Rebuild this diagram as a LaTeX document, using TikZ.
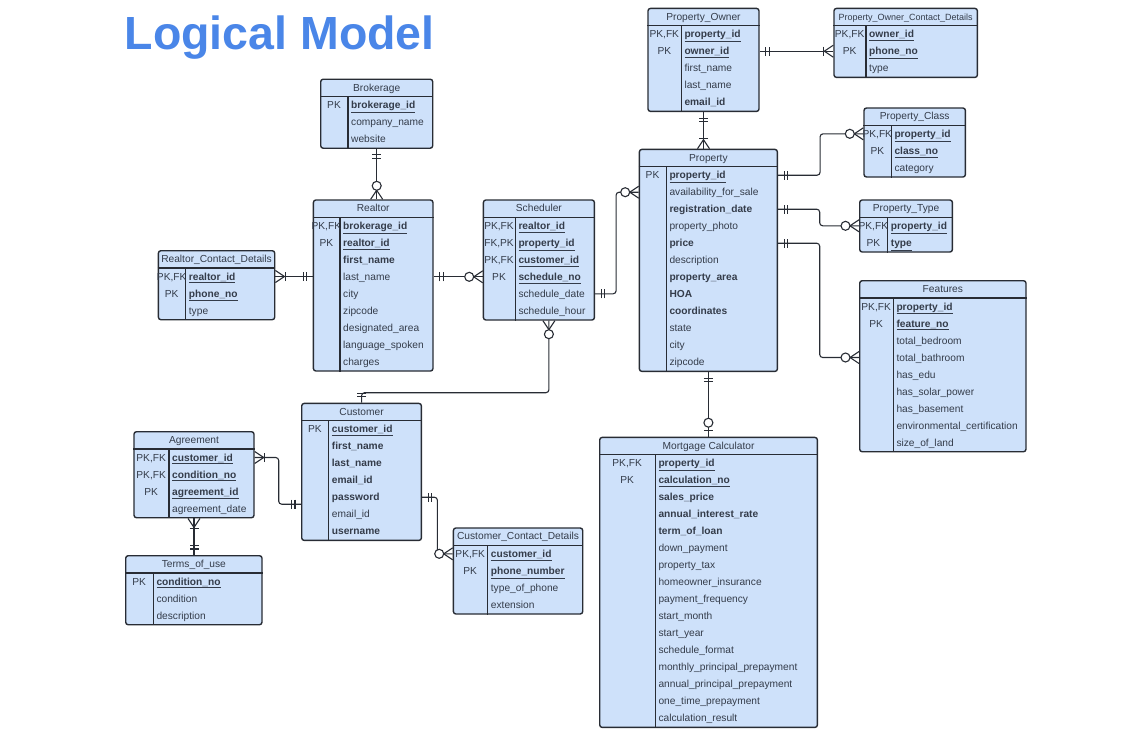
\documentclass[tikz,border=0pt]{standalone}
\usepackage{fontspec}
\setmainfont{Liberation Sans}
\usetikzlibrary{positioning}
\usetikzlibrary{calc}
\usetikzlibrary{decorations.markings}
\definecolor{boxfill}{RGB}{206,225,250}
\definecolor{boxdraw}{RGB}{40,44,52}
\definecolor{inktext}{RGB}{52,60,74}
\definecolor{titleblue}{RGB}{74,134,232}
\tikzstyle{entity}=[rectangle,draw=boxdraw,fill=boxfill,line width=1.4pt,rounded corners=2.5pt,inner sep=0pt]
\tikzstyle{boxline}=[draw=boxdraw,line width=1.2pt]
\tikzstyle{headtext}=[font=\fontsize{10.2}{12}\selectfont,text=inktext,inner sep=0pt,text height=9pt,text depth=2pt]
\tikzstyle{keytext}=[headtext]
\tikzstyle{fieldtext}=[headtext,anchor=west]
\tikzstyle{link}=[draw=boxdraw,line width=1.1pt,rounded corners=3pt]
\tikzstyle{sym}=[draw=boxdraw,line width=1.1pt,sharp corners]
\tikzset{
  sym start/.style={postaction={decorate,decoration={markings,mark=at position 0 with {\begin{scope}[rotate=180]#1\end{scope}}}}},
  sym end/.style={postaction={decorate,decoration={markings,mark=at position 1 with {#1}}}}
}
\newcommand{\keyfield}[1]{\underline{\textbf{#1}}}
% crow's foot ends, box lies towards +x
\newcommand{\symone}{\draw[sym] (-6,-4.5) -- (-6,4.5) (-9.5,-4.5) -- (-9.5,4.5);}
\newcommand{\symcrow}{\draw[sym] (0,-6) -- (-9,0) -- (0,6);}
\newcommand{\symzeromany}{\symcrow\draw[sym,fill=white] (-13.5,0) circle (4.5);}
\newcommand{\symonemany}{\symcrow\draw[sym] (-10,-4.5) -- (-10,4.5);}
\newcommand{\symzeroone}{\draw[sym] (-6,-4.5) -- (-6,4.5);\draw[sym,fill=white] (-14,0) circle (4.5);}
% name, corner, width, key width, rows, heading, fields
\newcommand{\entity}[7]{%
  \node[entity,anchor=north west,minimum width=#3pt,minimum height={(18+17*#5)*1pt}] (#1) at #2 {};
  \draw[boxline] ([yshift=-18pt]#1.north west) -- ([yshift=-18pt]#1.north east);
  \draw[boxline] ([shift={(#4pt,-18pt)}]#1.north west) -- ([xshift=#4pt]#1.south west);
  \node[headtext] (#1-head) at ([yshift=-9pt]#1.north) {#6};
  \foreach \key/\field [count=\i] in {#7}{
    \node[keytext] (#1-k\i) at ($(#1.north west)+(#4/2,9.5+17*\i)$) {\key};
    \node[fieldtext] (#1-\i) at ($(#1.north west)+(#4+3,9.5+17*\i)$) {\field};
  }
}

\begin{document}
\begin{tikzpicture}[x=1pt,y=-1pt]
    \useasboundingbox (0,0) rectangle (1132,732);
    \node[font=\fontsize{46.5}{50}\selectfont\bfseries,text=titleblue,anchor=base west,inner sep=0pt] (title) at (124.4,49.5) {Logical Model};

    % First we draw the tables
    \entity{brokerage}{(320,78.5)}{112}{28}{3}{Brokerage}
      {PK/\keyfield{brokerage\_id}, {}/company\_name, {}/website}
    \entity{realtor}{(312.7,199.3)}{119.6}{27.3}{9}{Realtor}
      {{PK,FK}/\keyfield{brokerage\_id}, PK/\keyfield{realtor\_id}, {}/\textbf{first\_name}, {}/last\_name, {}/city, {}/zipcode, {}/designated\_area, {}/language\_spoken, {}/charges}
    \entity{realtorcontact}{(157.7,250)}{116.3}{28}{3}{Realtor\_Contact\_Details}
      {{PK,FK}/\keyfield{realtor\_id}, PK/\keyfield{phone\_no}, {}/type}
    \entity{scheduler}{(482.7,199.3)}{111}{32.6}{6}{Scheduler}
      {{PK,FK}/\keyfield{realtor\_id}, {FK,PK}/\keyfield{property\_id}, {PK,FK}/\keyfield{customer\_id}, PK/\keyfield{schedule\_no}, {}/schedule\_date, {}/schedule\_hour}
    \entity{property}{(638.7,148.7)}{138}{27.6}{12}{Property}
      {PK/\keyfield{property\_id}, {}/availability\_for\_sale, {}/\textbf{registration\_date}, {}/property\_photo, {}/\textbf{price}, {}/description, {}/\textbf{property\_area}, {}/\textbf{HOA}, {}/\textbf{coordinates}, {}/state, {}/city, {}/zipcode}
    \entity{owner}{(647.3,7.7)}{111}{34}{5}{Property\_Owner}
      {{PK,FK}/\keyfield{property\_id}, PK/\keyfield{owner\_id}, {}/first\_name, {}/last\_name, {}/\textbf{email\_id}}
    \entity{ownercontact}{(833.3,7.7)}{143.4}{32.7}{3}{\fontsize{9}{10}\selectfont Property\_Owner\_Contact\_Details}
      {{PK,FK}/\keyfield{owner\_id}, PK/\keyfield{phone\_no}, {}/type}
    \entity{propclass}{(863.3,107.3)}{101.4}{28}{3}{Property\_Class}
      {{PK,FK}/\keyfield{property\_id}, PK/\keyfield{class\_no}, {}/category}
    \entity{proptype}{(859,199.3)}{92.7}{28.7}{2}{Property\_Type}
      {{PK,FK}/\keyfield{property\_id}, PK/\keyfield{type}}
    \entity{features}{(859,280)}{166.3}{34.3}{9}{Features}
      {{PK,FK}/\keyfield{property\_id}, PK/\keyfield{feature\_no}, {}/total\_bedroom, {}/total\_bathroom, {}/has\_edu, {}/has\_solar\_power, {}/has\_basement, {}/environmental\_certification, {}/size\_of\_land}
    \entity{mortgage}{(599,436.7)}{217.7}{56.3}{16}{Mortgage Calculator}
      {{PK,FK}/\keyfield{property\_id}, PK/\keyfield{calculation\_no}, {}/\textbf{sales\_price}, {}/\textbf{annual\_interest\_rate}, {}/\textbf{term\_of\_loan}, {}/down\_payment, {}/property\_tax, {}/homeowner\_insurance, {}/payment\_frequency, {}/start\_month, {}/start\_year, {}/schedule\_format, {}/monthly\_principal\_prepayment, {}/annual\_principal\_prepayment, {}/one\_time\_prepayment, {}/calculation\_result}
    \entity{customer}{(301,402.7)}{119.7}{27.7}{7}{Customer}
      {PK/\keyfield{customer\_id}, {}/\textbf{first\_name}, {}/\textbf{last\_name}, {}/\textbf{email\_id}, {}/\textbf{password}, {}/email\_id, {}/\textbf{username}}
    \entity{agreement}{(133.3,431)}{120}{35.7}{4}{Agreement}
      {{PK,FK}/\keyfield{customer\_id}, {PK,FK}/\keyfield{condition\_no}, PK/\keyfield{agreement\_id}, {}/agreement\_date}
    \entity{terms}{(125,555)}{136.3}{28.3}{3}{Terms\_of\_use}
      {PK/\keyfield{condition\_no}, {}/condition, {}/description}
    \entity{custcontact}{(452.7,527.3)}{129.3}{35}{4}{Customer\_Contact\_Details}
      {{PK,FK}/\keyfield{customer\_id}, PK/\keyfield{phone\_number}, {}/type\_of\_phone, {}/extension}

    % Connect tables with relationship lines
    \draw[link,sym start=\symone,sym end=\symzeromany] (brokerage.south) -- (brokerage.south |- realtor.north);
    \draw[link,sym start=\symonemany,sym end=\symone] (realtorcontact.east |- realtorcontact-1) -- (realtor.west |- realtorcontact-1);
    \draw[link,sym start=\symone,sym end=\symzeromany] (realtor.east |- scheduler-4) -- (scheduler.west |- scheduler-4);
    \draw[link,sym start=\symone,sym end=\symzeromany] (scheduler.east |- scheduler-5) -- ++(21,0) |- (property.west |- property-2);
    \draw[link,sym start=\symzeromany,sym end=\symone] ([xshift=10pt]scheduler.south) |- ($(customer.north)+(0,-10)$) -- (customer.north);
    \draw[link,sym start=\symone,sym end=\symonemany] (owner.east |- owner-2) -- (ownercontact.west |- owner-2);
    \draw[link,sym start=\symone,sym end=\symonemany] (owner.south) -- (owner.south |- property.north);
    \draw[link,sym start=\symone,sym end=\symzeromany] (property.east |- property-1) -- ++(42,0) |- (propclass.west |- propclass-1);
    \draw[link,sym start=\symone,sym end=\symzeromany] (property.east |- property-3) -- ++(41.6,0) |- (proptype.west |- proptype-1);
    \draw[link,sym start=\symone,sym end=\symzeromany] (property.east |- property-5) -- ++(41.6,0) |- (features.west |- features-4);
    \draw[link,sym start=\symone,sym end=\symzeroone] (property.south) -- (property.south |- mortgage.north);
    \draw[link,sym start=\symonemany,sym end=\symone] (agreement.east |- agreement-1) -- ++(24,0) |- ([yshift=-7pt]customer.west |- customer-5);
    \draw[link,sym start=\symone,sym end=\symzeromany] (customer.east |- customer-5) -- ++(15.3,0) |- (custcontact.west |- custcontact-1);
    \draw[link,sym start=\symonemany,sym end=\symone] (agreement.south) -- (agreement.south |- terms.north);
\end{tikzpicture}
\end{document}
